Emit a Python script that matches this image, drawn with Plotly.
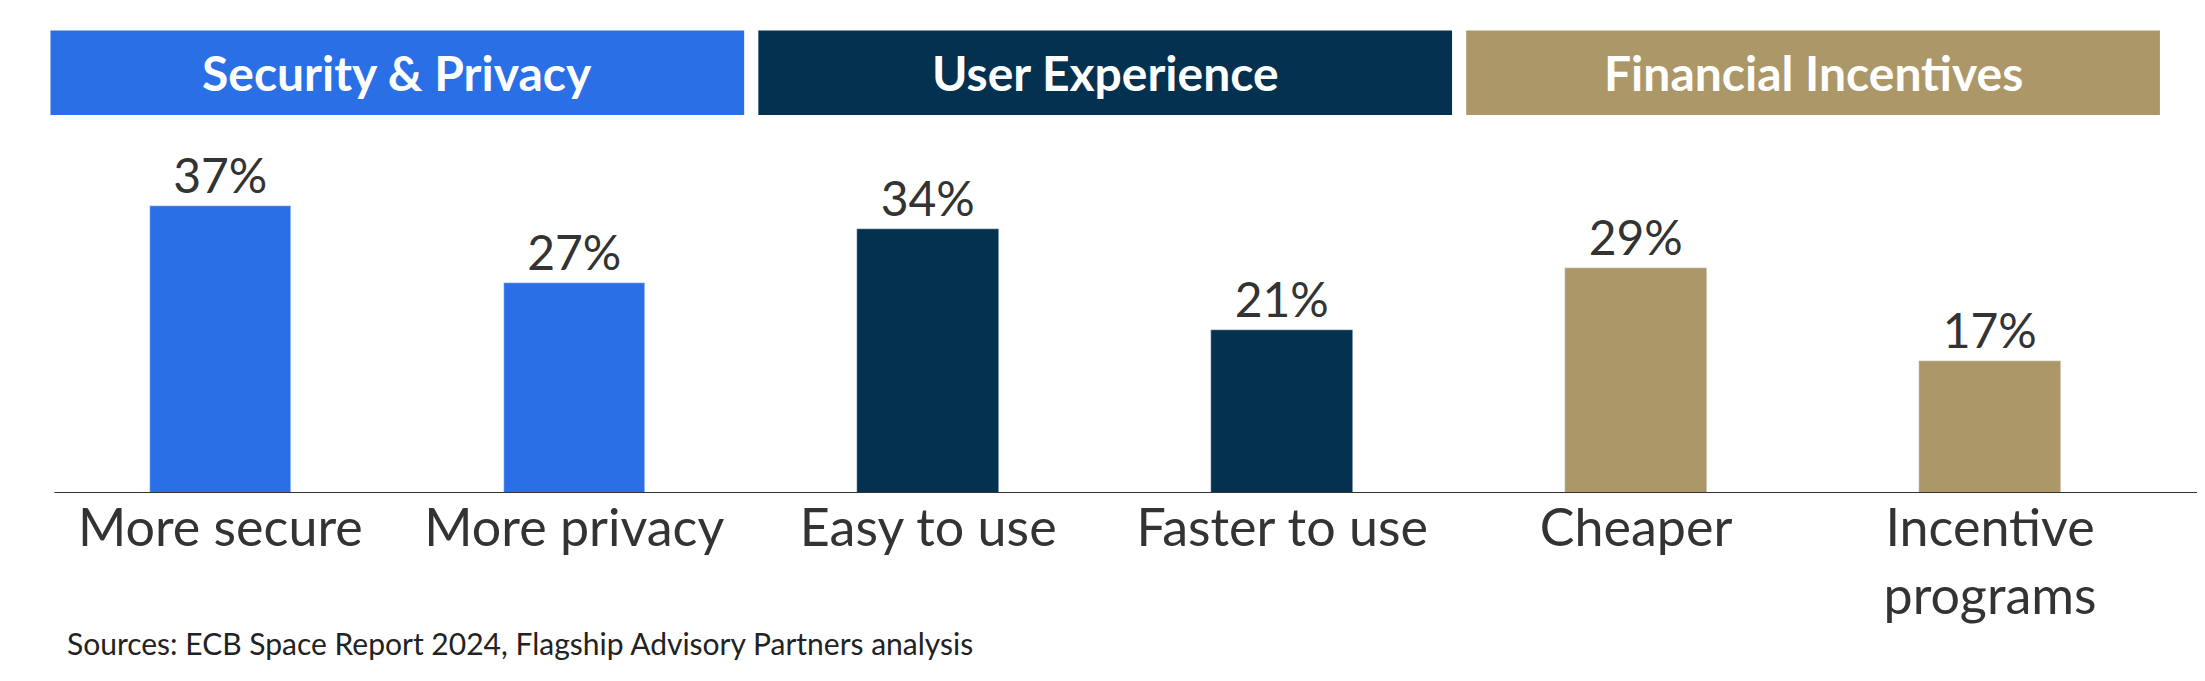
import plotly.graph_objects as go

categories = ["More secure", "More privacy", "Easy to use", "Faster to use", "Cheaper", "Incentive<br>programs"]
values = [37, 27, 34, 21, 29, 17]
groups = ["Security & Privacy", "User Experience", "Financial Incentives"]
group_colors = ["#2B6FE6", "#04314F", "#AC9768"]
bar_colors = [group_colors[i // 2] for i in range(6)]
source = "Sources: ECB Space Report 2024, Flagship Advisory Partners analysis"

FONT = "Lato"
x = list(range(len(categories)))
fig = go.Figure(go.Bar(
    x=x, y=values, marker_color=bar_colors, width=0.4,
    text=[f"{v}%" for v in values], textposition="outside",
    textfont=dict(size=48, color="#333333", family=FONT), cliponaxis=False,
))
for i, (g, c) in enumerate(zip(groups, group_colors)):
    x0, x1 = 2 * i - 0.48, 2 * i + 1.48
    fig.add_shape(type="rect", xref="x", yref="y", x0=x0, x1=x1, y0=48.7, y1=59.6,
                  fillcolor=c, line_width=0, layer="below")
    fig.add_annotation(x=2 * i + 0.5, y=54.15, xref="x", yref="y", text=f"<b>{g}</b>",
                       showarrow=False, font=dict(size=48, color="white", family=FONT))
fig.add_shape(type="line", xref="paper", yref="y", x0=0.021, x1=1, y0=0, y1=0,
              line=dict(color="#333333", width=2))
fig.add_annotation(x=0.026, y=-0.31, xref="paper", yref="paper", text=source, showarrow=False,
                   xanchor="left", yanchor="middle", font=dict(size=30, color="#222222", family=FONT))
fig.update_layout(
    width=2205, height=681, margin=dict(l=0, r=0, t=0, b=196),
    plot_bgcolor="white", paper_bgcolor="white", showlegend=False,
    xaxis=dict(range=[-0.60, 5.63], tickvals=x, ticktext=categories, showgrid=False,
               zeroline=False, showline=False, ticks="",
               tickfont=dict(size=52, color="#333333", family=FONT)),
    yaxis=dict(range=[0, 62.5], visible=False),
    bargap=0,
)
fig.write_html("out.html")
